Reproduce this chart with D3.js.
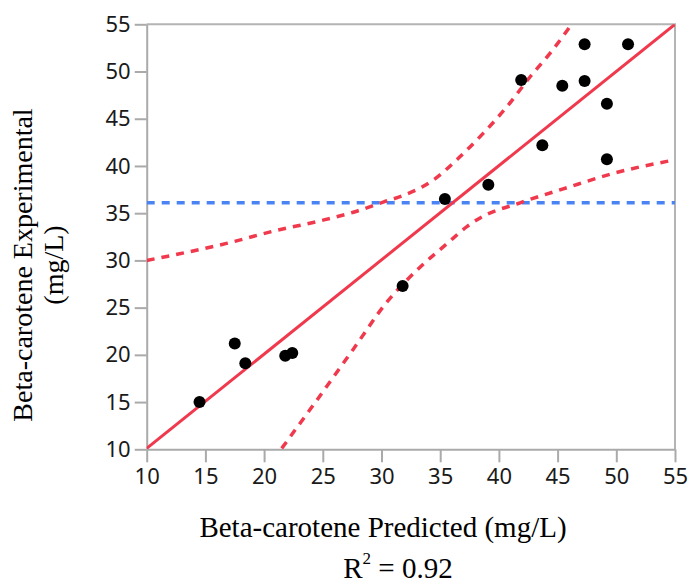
<!DOCTYPE html>
<html>
<head>
<meta charset="utf-8">
<script src="https://cdn.jsdelivr.net/npm/d3@7"></script>
<style>
    body { margin: 0; background: #fff; }
    .tick text { font-family: "Noto Sans", sans-serif; font-size: 22px; fill: #1a1a1a; }
    .title { font-family: "Liberation Serif", "Times New Roman", serif; fill: #000; }
</style>
</head>
<body>
<div id="chart"></div>
<script>
// observed points
var predicted = [14.5, 17.5, 18.4, 21.8, 22.4, 31.8, 35.4, 39.1, 43.7, 41.9, 45.4, 47.3, 47.3, 49.2, 49.2, 51.0];
var experimental = [15.0, 21.2, 19.1, 19.9, 20.2, 27.3, 36.5, 38.0, 42.2, 49.1, 48.5, 52.9, 49.0, 46.6, 40.7, 52.9];

// fit line and mean line
var fitX = [10, 55];
var fitY = [10.1, 55];
var meanY = 36.1;

// confidence curves
var upperX = [10, 12.8, 16.8, 20.8, 24.8, 27.6, 30.2, 31.9, 34.4, 36.7, 38.7, 40.7, 42.7, 44.4, 46.2];
var upperY = [30.0, 30.7, 31.8, 33.1, 34.2, 35.1, 36.2, 36.9, 38.5, 41.0, 43.5, 46.3, 49.5, 52.0, 55.0];
var lowerX = [21.5, 24.2, 27.6, 30.4, 33.3, 35.6, 37.3, 38.4, 41.8, 45.8, 49.7, 55];
var lowerY = [10.1, 14.7, 20.6, 25.5, 29.3, 31.8, 33.6, 34.5, 36.1, 37.7, 39.2, 40.65];

var ticks = [10, 15, 20, 25, 30, 35, 40, 45, 50, 55];

var width = 691, height = 583;
var plotLeft = 146.7, plotRight = 675, plotTop = 24.3, plotBottom = 449.3;

var svg = d3.select("#chart").append("svg")
    .attr("width", width)
    .attr("height", height);

var x = d3.scaleLinear().domain([10, 55]).range([plotLeft, plotRight]);
var y = d3.scaleLinear().domain([10, 55]).range([plotBottom, plotTop]);

svg.append("clipPath").attr("id", "clip")
  .append("rect")
    .attr("x", plotLeft).attr("y", plotTop)
    .attr("width", plotRight - plotLeft).attr("height", plotBottom - plotTop);

// frame top / right
svg.append("path")
    .attr("d", "M" + plotLeft + "," + plotTop + "H" + plotRight + "V" + plotBottom)
    .attr("fill", "none")
    .attr("stroke", "#b4b4b4")
    .attr("stroke-width", 2);

// axes
var xAxis = svg.append("g")
    .attr("transform", "translate(0," + plotBottom + ")")
    .call(d3.axisBottom(x).tickValues(ticks).tickSize(13).tickSizeOuter(0).tickPadding(6));
var yAxis = svg.append("g")
    .attr("transform", "translate(" + plotLeft + ",0)")
    .call(d3.axisLeft(y).tickValues(ticks).tickSize(12).tickSizeOuter(0).tickPadding(4));

[xAxis, yAxis].forEach(function(a) {
    a.attr("font-family", null).attr("font-size", null);
    a.select(".domain").attr("stroke", "#aaa").attr("stroke-width", 2);
    a.selectAll(".tick line").attr("stroke", "#aaa").attr("stroke-width", 2);
});

var plot = svg.append("g").attr("clip-path", "url(#clip)");

// mean line
plot.append("line")
    .attr("x1", x(10)).attr("x2", x(55))
    .attr("y1", y(meanY)).attr("y2", y(meanY))
    .attr("stroke", "#4a84f4")
    .attr("stroke-width", 3.5)
    .attr("stroke-dasharray", "8,7");

// confidence curves
var curve = d3.line()
    .x(function(d) { return x(d[0]); })
    .y(function(d) { return y(d[1]); })
    .curve(d3.curveMonotoneX);

[[upperX, upperY], [lowerX, lowerY]].forEach(function(c) {
    plot.append("path")
        .attr("d", curve(d3.zip(c[0], c[1])))
        .attr("fill", "none")
        .attr("stroke", "#f0394d")
        .attr("stroke-width", 3.5)
        .attr("stroke-dasharray", "8,7");
});

// fit line
plot.append("path")
    .attr("d", curve(d3.zip(fitX, fitY)))
    .attr("fill", "none")
    .attr("stroke", "#f0394d")
    .attr("stroke-width", 3);

// points
svg.append("g").selectAll("circle")
    .data(d3.zip(predicted, experimental))
    .enter().append("circle")
    .attr("cx", function(d) { return x(d[0]); })
    .attr("cy", function(d) { return y(d[1]); })
    .attr("r", 6)
    .attr("fill", "#000");

// titles
svg.append("text")
    .attr("class", "title")
    .attr("x", 383).attr("y", 537)
    .attr("text-anchor", "middle")
    .attr("font-size", 29)
    .text("Beta-carotene Predicted (mg/L)");

var r2 = svg.append("text")
    .attr("class", "title")
    .attr("x", 398).attr("y", 578)
    .attr("text-anchor", "middle")
    .attr("font-size", 29);
r2.append("tspan").text("R");
r2.append("tspan").attr("dy", -14).attr("font-size", 17).text("2");
r2.append("tspan").attr("dy", 14).text(" = 0.92");

var yTitle = svg.append("text")
    .attr("class", "title")
    .attr("transform", "translate(32,265) rotate(-90)")
    .attr("text-anchor", "middle")
    .attr("font-size", 28);
yTitle.append("tspan").attr("x", 0).attr("y", 0).text("Beta-carotene Experimental");
yTitle.append("tspan").attr("x", 0).attr("y", 31).text("(mg/L)");
</script>
</body>
</html>
